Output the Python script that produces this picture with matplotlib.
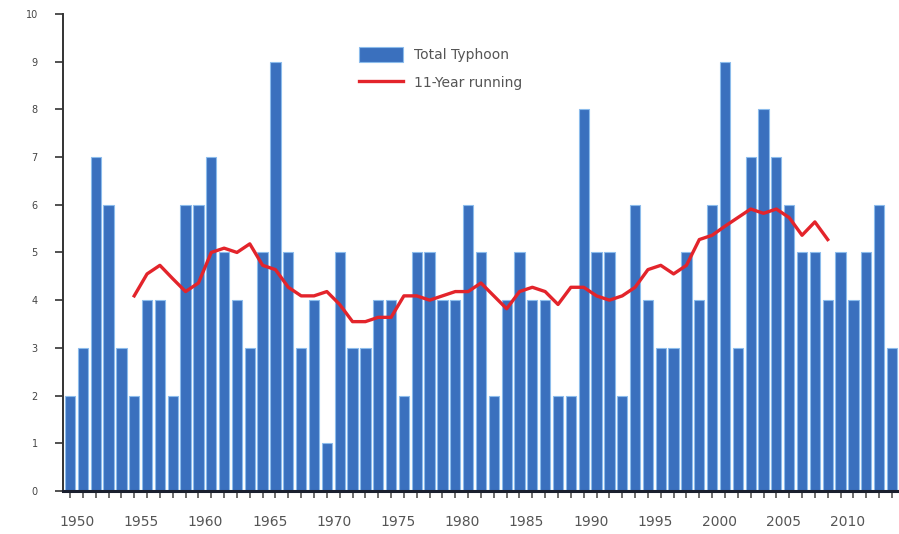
import numpy as np
import matplotlib.pyplot as plt

years = list(range(1950, 2015))
typhoons = [2, 3, 7, 6, 3, 2, 4, 4, 2, 6,
            6, 7, 5, 4, 3, 5, 9, 5, 3, 4,
            1, 5, 3, 3, 4, 4, 2, 5, 5, 4,
            4, 6, 5, 2, 4, 5, 4, 4, 2, 2,
            8, 5, 5, 2, 6, 4, 3, 3, 5, 4,
            6, 9, 3, 7, 8, 7, 6, 5, 5, 4,
            5, 4, 5, 6, 3]

# 11-year running mean (1955-2009)
run_years = list(range(1955, 2010))
running = [4.09, 4.55, 4.73, 4.45, 4.18, 4.36, 5.00, 5.09, 5.00, 5.18,
           4.73, 4.64, 4.27, 4.09, 4.09, 4.18, 3.91, 3.55, 3.55, 3.64,
           3.64, 4.09, 4.09, 4.00, 4.09, 4.18, 4.18, 4.36, 4.09, 3.82,
           4.18, 4.27, 4.18, 3.91, 4.27, 4.27, 4.09, 4.00, 4.09, 4.27,
           4.64, 4.73, 4.55, 4.73, 5.27, 5.36, 5.55, 5.73, 5.91, 5.82,
           5.91, 5.73, 5.36, 5.64, 5.27]

shift = 0.55  # bars sit a little left of the year labels in the original
bx = np.array(years) - shift
rx = np.array(run_years) - shift

fig = plt.figure(figsize=(8.99, 5.34), dpi=100)
ax = fig.add_axes([0.070, 0.0805, 0.930, 0.8935])

bars = ax.bar(bx, typhoons, width=0.8, color="#3a70be", edgecolor="#8cbcec",
              linewidth=0.8, label="Total Typhoon", zorder=2)
line, = ax.plot(rx, running, color="#e3242b", linewidth=2.4,
                label="11-Year running", zorder=3)

ax.set_xlim(1948.9, 2014.0)
ax.set_ylim(0, 10)
ax.set_yticks(range(0, 11))
ax.set_xticks(range(1950, 2015, 5))
ax.set_xticks(bx, minor=True)

for s in ["top", "right"]:
    ax.spines[s].set_visible(False)
ax.spines["left"].set_color("#333333")
ax.spines["left"].set_linewidth(1.4)
ax.spines["bottom"].set_color("#1a1f2e")
ax.spines["bottom"].set_linewidth(2.2)

ax.tick_params(axis="y", direction="out", length=6, width=1.2,
               color="#333333", labelsize=7, labelcolor="#444444", pad=12)
ax.tick_params(axis="x", which="major", direction="out", length=0,
               labelsize=10, labelcolor="#555555", pad=17)
ax.tick_params(axis="x", which="minor", direction="out", length=5,
               width=1.2, color="#555555")

ax.legend([bars, line], ["Total Typhoon", "11-Year running"],
          loc="upper left", bbox_to_anchor=(0.385, 0.935),
          bbox_transform=fig.transFigure, frameon=False, fontsize=10,
          handlelength=3.2, handleheight=1.3, labelspacing=0.9,
          labelcolor="#555555")

plt.savefig("out.png", dpi=100)
